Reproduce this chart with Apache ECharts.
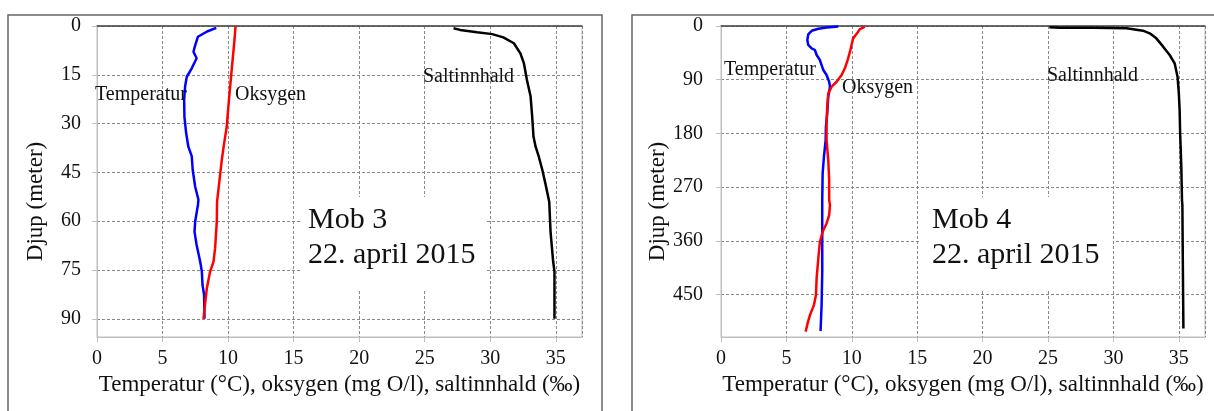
<!DOCTYPE html>
<html>
<head>
<meta charset="utf-8">
<script src="https://cdn.jsdelivr.net/npm/echarts@6/dist/echarts.min.js"></script>
<style>
html,body{margin:0;padding:0;background:#fff;}
#chart{width:1214px;height:411px;}
</style>
</head>
<body>
<div id="chart"></div>
<script>
// ---- Data ----
const xTicks = [0, 5, 10, 15, 20, 25, 30, 35];
const mob3DepthTicks = [0, 15, 30, 45, 60, 75, 90];
const mob4DepthTicks = [0, 90, 180, 270, 360, 450];

// Mob 3
const mob3TempDepth = [0.6, 1.7, 3.3, 5.8, 7.9, 9.9, 13, 15.6, 18.6, 22.7, 27.9, 32.9, 37.1, 40.1, 44.2, 49.4, 53.4, 55, 60.1, 63.2, 67.3, 72.4, 75.5, 79.6, 82.6, 90];
const mob3Temp      = [9.1, 8.4, 7.7, 7.5, 7.36, 7.6, 7.23, 6.85, 6.72, 6.65, 6.67, 6.8, 6.97, 7.23, 7.3, 7.49, 7.74, 7.7, 7.49, 7.44, 7.6, 7.87, 8.0, 8.05, 8.17, 8.2];
const mob3OxyDepth  = [0, 4.3, 9.4, 15, 21.2, 26.8, 30.9, 36, 41.2, 48.3, 54, 60.1, 68.3, 72.4, 75.5, 80.6, 90];
const mob3Oxy       = [10.57, 10.49, 10.37, 10.24, 10.1, 9.98, 9.9, 9.7, 9.52, 9.32, 9.16, 9.14, 9.01, 8.89, 8.63, 8.38, 8.12];
const mob3SalDepth  = [0.7, 1.2, 1.9, 2.5, 3.5, 5.3, 8.4, 11.5, 16.6, 21.7, 27.9, 34, 37.1, 40.1, 44.2, 48.3, 54, 63.2, 72.4, 75.5, 90];
const mob3Sal       = [27.2, 27.7, 29.0, 30.15, 31.0, 31.8, 32.3, 32.57, 32.8, 33.08, 33.2, 33.3, 33.46, 33.7, 33.97, 34.2, 34.5, 34.6, 34.8, 34.9, 34.9];

// Mob 4
const mob4TempDepth = [1, 2.5, 4.5, 8, 14, 23.5, 31.8, 37.4, 40.2, 48.6, 57, 65.4, 73.7, 82.1, 93.4, 101.7, 118.5, 146.4, 168.8, 191, 219, 247, 291.6, 355.8, 411.8, 467.6, 511];
const mob4Temp      = [8.96, 8.07, 7.44, 6.93, 6.67, 6.6, 6.67, 6.93, 7.18, 7.31, 7.56, 7.69, 7.82, 8.07, 8.27, 8.33, 8.2, 8.12, 8.02, 8.0, 7.87, 7.77, 7.74, 7.74, 7.74, 7.69, 7.61];
const mob4OxyDepth  = [1.1, 5.6, 12.3, 20.7, 31.8, 43, 57, 70.9, 82.1, 93.4, 101.7, 112.9, 135, 163, 191, 224.6, 258, 291.6, 300, 316.8, 330.7, 344.8, 361.5, 389.4, 422.9, 450.8, 467.6, 484.4, 498.3, 512];
const mob4Oxy       = [11.0, 10.6, 10.4, 10.1, 9.98, 9.86, 9.68, 9.47, 9.22, 8.84, 8.46, 8.2, 8.12, 8.07, 8.07, 8.2, 8.27, 8.27, 8.33, 8.27, 8.07, 7.77, 7.56, 7.44, 7.31, 7.26, 7.1, 6.8, 6.62, 6.47];
const mob4SalDepth  = [2.2, 2.8, 2.8, 3.9, 7.8, 12.3, 20.7, 34.6, 48.6, 62.5, 84.9, 112.9, 140.8, 179.8, 235.8, 291.6, 300, 383.8, 506.6];
const mob4Sal       = [25.1, 25.9, 28.4, 31.0, 32.26, 32.77, 33.28, 33.8, 34.3, 34.68, 34.9, 35.0, 35.06, 35.1, 35.19, 35.24, 35.27, 35.3, 35.35];

const xTitle = 'Temperatur (°C), oksygen (mg O/l), saltinnhald (‰)';
const yTitle = 'Djup (meter)';

// ---- Chart ----
const FONT = "'Liberation Serif', 'Times New Roman', serif";
const zip = (vals, depths) => vals.map((v, i) => [v, depths[i]]);
const chart = echarts.init(document.getElementById('chart'), null, {renderer: 'canvas'});

const grids = [
  {left: 97, top: 26, width: 485, height: 311},
  {left: 721, top: 26, width: 484, height: 311}
];

function xAxes(gi) {
  return [
    {
      gridIndex: gi, type: 'value', min: 0, max: 37, interval: 5, position: 'bottom',
      axisLine: {show: true, onZero: false, lineStyle: {color: '#bfbfbf', width: 1}},
      axisTick: {show: true, length: 5, lineStyle: {color: '#bfbfbf'}},
      axisLabel: {show: true, showMaxLabel: false, margin: 12, fontFamily: FONT, fontSize: 20, color: '#111',
        formatter: v => xTicks.indexOf(v) >= 0 ? String(v) : ''},
      splitLine: {show: true, lineStyle: {color: '#888', type: [3, 2], width: 1}},
      name: xTitle, nameLocation: 'middle', nameGap: 35,
      nameTextStyle: {fontFamily: FONT, fontSize: 23, color: '#111'}
    },
    {
      gridIndex: gi, type: 'value', min: 0, max: 37, position: 'top',
      axisLine: {show: true, onZero: false, lineStyle: {color: '#444', width: 1.5}},
      axisTick: {show: false}, axisLabel: {show: false}, splitLine: {show: false}
    }
  ];
}

function yAxis(gi, max, interval, ticks, margin) {
  return {
    gridIndex: gi, type: 'value', inverse: true, min: 0, max: max, interval: interval,
    axisLine: {show: true, onZero: false, lineStyle: {color: '#bfbfbf', width: 1}},
    axisTick: {show: true, length: 5, lineStyle: {color: '#bfbfbf'}},
    axisLabel: {show: true, showMaxLabel: false, margin: margin, fontFamily: FONT, fontSize: 20, color: '#111',
      formatter: v => ticks.indexOf(v) >= 0 ? String(v) : ''},
    splitLine: {show: true, lineStyle: {color: '#888', type: [3, 2], width: 1}},
    name: yTitle, nameLocation: 'middle', nameGap: 50, nameRotate: 90,
    nameTextStyle: {fontFamily: FONT, fontSize: 23, color: '#111', padding: [0, 40, 0, 0]}
  };
}

function line(name, data, color, xi, yi, w) {
  return {
    name: name, type: 'line', xAxisIndex: xi, yAxisIndex: yi, data: data,
    showSymbol: false, symbol: 'none', smooth: false, animation: false,
    lineStyle: {color: color, width: w}, z: 3
  };
}

function txt(x, y, text, size) {
  return {type: 'text', x: x, y: y, z: 20,
    style: {text: text, font: size + 'px ' + FONT, fill: '#111', verticalAlign: 'middle', align: 'left'}};
}

const option = {
  backgroundColor: '#fff',
  animation: false,
  grid: grids.map(g => Object.assign({show: true, borderColor: '#bfbfbf', borderWidth: 1, backgroundColor: 'transparent'}, g)),
  xAxis: [...xAxes(0), ...xAxes(1)],
  yAxis: [yAxis(0, 95.6, 15, mob3DepthTicks, 16), yAxis(1, 521, 90, mob4DepthTicks, 18)],
  series: [
    line('Temperatur', zip(mob3Temp, mob3TempDepth), '#0000ff', 0, 0, 2.5),
    line('Oksygen', zip(mob3Oxy, mob3OxyDepth), '#ff0000', 0, 0, 2.5),
    line('Saltinnhald', zip(mob3Sal, mob3SalDepth), '#000000', 0, 0, 2.5),
    line('Temperatur', zip(mob4Temp, mob4TempDepth), '#0000ff', 2, 1, 2.5),
    line('Oksygen', zip(mob4Oxy, mob4OxyDepth), '#ff0000', 2, 1, 2.5),
    line('Saltinnhald', zip(mob4Sal, mob4SalDepth), '#000000', 2, 1, 2.5)
  ],
  graphic: [
    // panel frames
    {type: 'rect', shape: {x: 8, y: 15, width: 594, height: 420}, z: -1,
      style: {fill: 'none', stroke: '#666', lineWidth: 1.5}},
    {type: 'rect', shape: {x: 632, y: 15, width: 600, height: 420}, z: -1,
      style: {fill: 'none', stroke: '#666', lineWidth: 1.5}},
    // white boxes behind station text
    {type: 'rect', shape: {x: 300, y: 197, width: 185, height: 93}, z: 10, style: {fill: '#fff'}},
    {type: 'rect', shape: {x: 920, y: 197, width: 193, height: 93}, z: 10, style: {fill: '#fff'}},
    // series labels
    txt(95, 95, 'Temperatur', 20),
    txt(235, 95, 'Oksygen', 20),
    txt(423, 77, 'Saltinnhald', 20),
    txt(724, 70, 'Temperatur', 20),
    txt(842, 88, 'Oksygen', 20),
    txt(1047, 76, 'Saltinnhald', 20),
    // station text
    txt(308, 220, 'Mob 3', 30),
    txt(308, 255, '22. april 2015', 30),
    txt(932, 220, 'Mob 4', 30),
    txt(932, 255, '22. april 2015', 30)
  ]
};
chart.setOption(option);
</script>
</body>
</html>
